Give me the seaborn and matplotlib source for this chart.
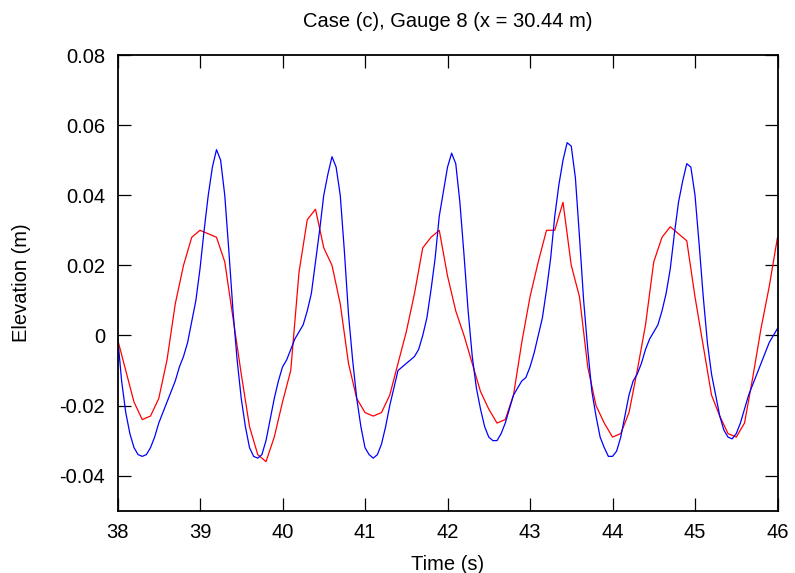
import numpy as np
import pandas as pd
import matplotlib
matplotlib.use("Agg")
import matplotlib.pyplot as plt
import seaborn as sns

# measured series, sampled every 0.05 s (blue) and every 0.1 s (red)
blue_t0, blue_dt = 38.0, 0.05
blue_eta = [
    0.000, -0.013, -0.022, -0.028, -0.032, -0.034, -0.0345, -0.034, -0.032, -0.029,
    -0.025, -0.022, -0.019, -0.016, -0.013, -0.009, -0.006, -0.002, 0.004, 0.010,
    0.019, 0.030, 0.040, 0.048, 0.053, 0.050, 0.040, 0.024, 0.007, -0.007,
    -0.018, -0.026, -0.032, -0.0345, -0.035, -0.034, -0.030, -0.024, -0.018, -0.013,
    -0.009, -0.007, -0.004, -0.001, 0.001, 0.003, 0.007, 0.012, 0.021, 0.030,
    0.040, 0.046, 0.051, 0.048, 0.040, 0.024, 0.006, -0.007, -0.018, -0.026,
    -0.032, -0.034, -0.035, -0.034, -0.031, -0.026, -0.020, -0.015, -0.010, -0.009,
    -0.008, -0.007, -0.006, -0.004, 0.000, 0.005, 0.013, 0.022, 0.034, 0.041,
    0.048, 0.052, 0.049, 0.038, 0.023, 0.007, -0.006, -0.015, -0.021, -0.026,
    -0.029, -0.030, -0.030, -0.028, -0.025, -0.021, -0.017, -0.015, -0.013, -0.012,
    -0.009, -0.005, 0.000, 0.005, 0.013, 0.022, 0.034, 0.043, 0.050, 0.055,
    0.054, 0.045, 0.028, 0.010, -0.004, -0.016, -0.023, -0.029, -0.032, -0.0345,
    -0.0345, -0.033, -0.029, -0.023, -0.017, -0.013, -0.011, -0.008, -0.004, -0.001,
    0.001, 0.003, 0.007, 0.012, 0.019, 0.029, 0.038, 0.044, 0.049, 0.048,
    0.040, 0.026, 0.011, -0.002, -0.011, -0.017, -0.023, -0.027, -0.029, -0.0295,
    -0.028, -0.025, -0.021, -0.017, -0.014, -0.011, -0.008, -0.005, -0.002, 0.000,
    0.002,
]

red_t0, red_dt = 38.0, 0.1
red_eta = [
    -0.001, -0.010, -0.019, -0.024, -0.023, -0.018, -0.007, 0.009, 0.020, 0.028,
    0.030, 0.029, 0.028, 0.021, 0.005, -0.011, -0.026, -0.034, -0.036, -0.029,
    -0.019, -0.010, 0.018, 0.033, 0.036, 0.025, 0.020, 0.009, -0.008, -0.018,
    -0.022, -0.023, -0.022, -0.017, -0.008, 0.001, 0.012, 0.025, 0.028, 0.030,
    0.017, 0.007, 0.000, -0.008, -0.016, -0.021, -0.025, -0.024, -0.017, -0.002,
    0.011, 0.021, 0.030, 0.030, 0.038, 0.020, 0.011, -0.009, -0.020, -0.025,
    -0.029, -0.028, -0.022, -0.010, 0.003, 0.021, 0.028, 0.031, 0.029, 0.027,
    0.011, -0.003, -0.017, -0.023, -0.028, -0.029, -0.025, -0.012, 0.002, 0.014,
    0.028,
]

x_ticks = [38, 39, 40, 41, 42, 43, 44, 45, 46]
y_ticks = [-0.04, -0.02, 0, 0.02, 0.04, 0.06, 0.08]
y_ticklabels = ["-0.04", "-0.02", "0", "0.02", "0.04", "0.06", "0.08"]

blue = pd.DataFrame({
    "t": blue_t0 + blue_dt * np.arange(len(blue_eta)),
    "eta": blue_eta,
})
red = pd.DataFrame({
    "t": red_t0 + red_dt * np.arange(len(red_eta)),
    "eta": red_eta,
})

sns.set_style("ticks")
plt.rcParams["font.family"] = ["Liberation Sans", "DejaVu Sans"]
plt.rcParams["text.color"] = "black"
plt.rcParams["axes.labelcolor"] = "black"

fig = plt.figure(figsize=(7.95, 5.73), dpi=100)
ax = fig.add_axes([0.1478, 0.1087, 0.8302, 0.7953])

sns.lineplot(data=red, x="t", y="eta", color="#ff0000", linewidth=0.9, ax=ax)
sns.lineplot(data=blue, x="t", y="eta", color="#0000ff", linewidth=0.9, ax=ax)

ax.set_xlim(38, 46)
ax.set_ylim(-0.05, 0.08)
ax.set_xticks(x_ticks)
ax.set_xticklabels([str(v) for v in x_ticks])
ax.set_yticks(y_ticks)
ax.set_yticklabels(y_ticklabels)

fs = 14.5
ax.tick_params(direction="in", length=9.5, width=0.9, labelsize=fs,
               top=True, right=True, pad=9, colors="black")
for s in ax.spines.values():
    s.set_linewidth(1.3)
    s.set_color("black")

ax.set_title("Case (c), Gauge 8 (x = 30.44 m)", fontsize=fs, pad=20, color="black")
ax.set_xlabel("Time (s)", fontsize=fs, labelpad=9, color="black")
ax.set_ylabel("Elevation (m)", fontsize=fs, labelpad=20, color="black")

fig.savefig("out.png", dpi=100)
